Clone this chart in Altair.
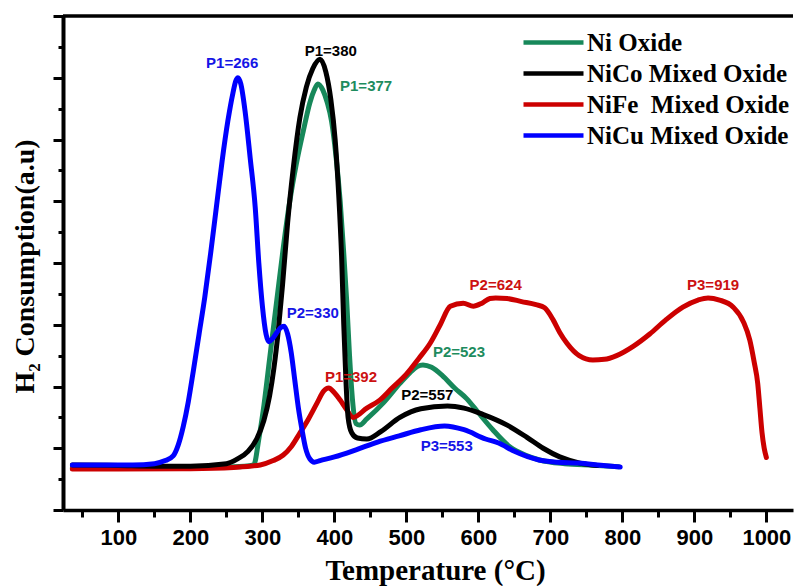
import altair as alt
import pandas as pd

# ---- TPR profiles: temperature (°C) and H2 consumption (a.u.) ----
SERIES = ["Ni Oxide", "NiCo Mixed Oxide", "NiFe\u00a0 Mixed Oxide", "NiCu Mixed Oxide"]
COLORS = ["#17885A", "#000000", "#CC0000", "#0000FF"]

ni_t = [36, 100, 200, 260, 288, 295, 301, 310, 320, 329, 338, 347, 357, 366, 372, 377,
        384, 390, 396, 402, 408, 413, 417, 421, 425, 430, 435, 445, 468, 491, 505, 515,
        523, 535, 550, 567, 584, 600, 620, 644, 665, 685, 720, 760, 795]
ni_h = [1.36, 1.36, 1.38, 1.40, 1.46, 2.3, 3.2, 4.9, 6.8, 8.5, 10.0, 11.2, 12.3, 13.2, 13.6, 13.8,
        13.6, 13.2, 12.6, 11.5, 10.0, 8.3, 6.8, 5.0, 3.6, 2.8, 2.75, 2.95, 3.47, 4.1, 4.45, 4.65,
        4.7, 4.62, 4.35, 3.95, 3.6, 3.15, 2.6, 2.04, 1.78, 1.62, 1.5, 1.45, 1.4]

nico_t = [36, 100, 150, 200, 250, 265, 280, 292, 302, 310, 316, 322, 328, 335, 343, 352,
          361, 370, 380, 388, 395, 401, 406, 410, 413, 416, 419, 424, 432, 445, 465, 491,
          520, 557, 580, 606, 640, 667, 690, 713, 741, 765]
nico_h = [1.46, 1.44, 1.42, 1.42, 1.5, 1.65, 1.9, 2.3, 2.9, 3.7, 4.6, 5.8, 7.3, 9.3, 11.1, 12.7,
          13.7, 14.3, 14.6, 14.2, 13.3, 12.0, 10.2, 8.2, 6.0, 4.2, 3.0, 2.5, 2.33, 2.3, 2.55, 3.0,
          3.28, 3.37, 3.3, 3.1, 2.75, 2.36, 2.0, 1.72, 1.52, 1.44]

nife_t = [36, 100, 200, 260, 297, 315, 329, 340, 352, 364, 376, 385, 392, 400, 408, 417,
          426, 445, 463, 480, 500, 517, 533, 547, 561, 579, 593, 605, 616, 624, 640, 660,
          680, 692, 704, 713, 723, 740, 759, 775, 792, 815, 838, 860, 884, 905, 919, 935,
          954, 968, 977, 983, 988, 991, 994, 997, 1000]
nife_h = [1.33, 1.33, 1.34, 1.38, 1.46, 1.6, 1.78, 2.05, 2.49, 2.95, 3.47, 3.85, 3.95, 3.8, 3.56, 3.25,
          3.0, 3.3, 3.56, 3.95, 4.4, 4.9, 5.4, 6.0, 6.6, 6.7, 6.6, 6.7, 6.85, 6.87, 6.85, 6.75,
          6.65, 6.55, 6.15, 5.75, 5.4, 5.0, 4.86, 4.88, 5.0, 5.3, 5.7, 6.15, 6.57, 6.8, 6.87, 6.8,
          6.57, 6.1, 5.5, 4.8, 4.1, 3.3, 2.5, 2.0, 1.7]

nicu_t = [36, 80, 120, 150, 165, 176, 183, 190, 197, 204, 212, 220, 228, 236, 244, 252,
          259, 263, 266, 270, 276, 283, 290, 295, 300, 305, 309, 314, 320, 325, 330, 335,
          340, 345, 350, 355, 360, 366, 372, 380, 400, 430, 460, 490, 520, 553, 580, 610,
          628, 650, 684, 710, 739, 770, 797]
nicu_h = [1.46, 1.46, 1.46, 1.5, 1.6, 1.75, 2.1, 2.7, 3.5, 4.5, 5.7, 6.9, 8.3, 9.8, 11.3, 12.6,
          13.5, 13.9, 14.0, 13.8, 12.9, 11.4, 9.8, 8.0, 6.6, 5.7, 5.45, 5.55, 5.75, 5.9, 5.95, 5.7,
          5.1, 4.2, 3.3, 2.6, 2.0, 1.65, 1.55, 1.6, 1.72, 1.95, 2.2, 2.4, 2.6, 2.72, 2.6, 2.3,
          2.17, 1.9, 1.62, 1.55, 1.52, 1.45, 1.39]

# ---- peak annotations ----
peak_text = ["P1=266", "P1=380", "P1=377", "P2=330", "P1=392",
             "P2=523", "P2=557", "P3=553", "P2=624", "P3=919"]
peak_x = [258, 395, 444, 370, 423, 573, 529, 556, 624, 926]
peak_y = [14.48, 14.87, 13.73, 6.38, 4.31, 5.12, 3.72, 2.07, 7.29, 7.29]
peak_color = ["#1515E6", "#000000", "#1E8C5E", "#1515E6", "#CC1111",
              "#1E8C5E", "#000000", "#1515E6", "#CC1111", "#CC1111"]

frames = []
for name, t, h in [(SERIES[0], ni_t, ni_h), (SERIES[1], nico_t, nico_h),
                   (SERIES[2], nife_t, nife_h), (SERIES[3], nicu_t, nicu_h)]:
    frames.append(pd.DataFrame({"series": name, "temp": t, "h2": h}))
df = pd.concat(frames, ignore_index=True)

labels = pd.DataFrame({"text": peak_text, "temp": peak_x, "h2": peak_y, "tcolor": peak_color})

X_MIN, X_MAX = 23, 1037
Y_MIN, Y_MAX = 0, 16

x_scale = alt.Scale(domain=[X_MIN, X_MAX], nice=False, zero=False)
y_scale = alt.Scale(domain=[Y_MIN, Y_MAX], nice=False, zero=False)

x_axis = alt.Axis(
    values=list(range(50, 1001, 50)),
    format="d",
    labelExpr="datum.value % 100 === 0 ? datum.label : ''",
    grid=False,
    domainColor="black", domainWidth=3.5,
    tickColor="black", tickWidth=3,
    tickSize={"condition": {"test": "datum.value % 100 === 0", "value": 12}, "value": 7},
    labelFont="Liberation Sans", labelFontWeight="bold", labelFontSize=22,
    labelColor="black", labelPadding=5,
    title="Temperature (°C)",
    titleFont="Liberation Serif", titleFontWeight="bold", titleFontSize=29,
    titleColor="black", titleX=372, titleY=69, titleBaseline="alphabetic",
)
y_axis = alt.Axis(
    values=list(range(0, 17)),
    labels=False,
    grid=False,
    domainColor="black", domainWidth=4,
    tickColor="black", tickWidth=3,
    tickSize={"condition": {"test": "datum.value % 2 === 0", "value": 10}, "value": 5},
    title="H₂ Consumption(a.u)",
    titleFont="Liberation Serif", titleFontWeight="bold", titleFontSize=28,
    titleColor="black", titleX=-30, titleY=250, titleAngle=-90, titleBaseline="alphabetic",
)

legend = alt.Legend(
    orient="none", legendX=478, legendY=14, direction="vertical", title=None,
    symbolType="M-3,0H3", symbolSize=400, symbolStrokeWidth=4.5,
    labelFont="Liberation Serif", labelFontWeight="bold", labelFontSize=25,
    labelColor="black", labelLimit=400, labelOffset=21, rowPadding=5, padding=0,
)

color = alt.Color("series:N", scale=alt.Scale(domain=SERIES, range=COLORS), legend=legend)

# top edge of the frame
frame_top = alt.Chart(pd.DataFrame({"k": [0]})).mark_rule(
    color="black", strokeWidth=3.5
).encode(
    x=alt.X("x0:Q", scale=x_scale, axis=x_axis),
    x2="x1:Q",
    y=alt.Y("y0:Q", scale=y_scale, axis=y_axis),
).transform_calculate(x0=str(X_MIN), x1=str(X_MAX), y0=str(Y_MAX))

layers = [frame_top]
for name in [SERIES[0], SERIES[2], SERIES[1], SERIES[3]]:
    layers.append(
        alt.Chart(df).transform_filter(alt.datum.series == name).mark_line(
            strokeWidth=5, interpolate="monotone", strokeCap="round", strokeJoin="round"
        ).encode(
            x=alt.X("temp:Q", scale=x_scale, axis=x_axis),
            y=alt.Y("h2:Q", scale=y_scale, axis=y_axis),
            color=color,
        )
    )

peaks = alt.Chart(labels).mark_text(
    font="Liberation Sans", fontWeight="bold", fontSize=15, align="center", baseline="middle"
).encode(
    x=alt.X("temp:Q", scale=x_scale, axis=x_axis),
    y=alt.Y("h2:Q", scale=y_scale, axis=y_axis),
    text="text:N",
    color=alt.Color("tcolor:N", scale=None),
)
layers.append(peaks)

chart = alt.layer(*layers).properties(
    width=730, height=494,
    autosize=alt.AutoSizeParams(type="none"),
    padding={"left": 63, "top": 16, "right": 2, "bottom": 76},
    background="white",
).configure_view(stroke=None)

chart.save("out.html", embed_options={"renderer": "svg", "actions": False})
